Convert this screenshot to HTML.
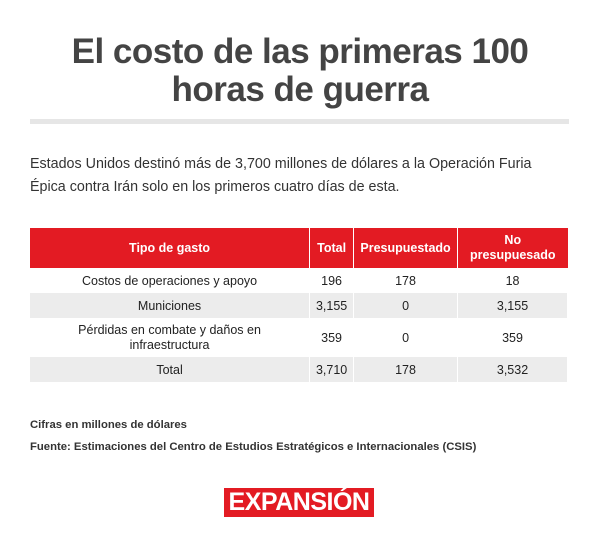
<!DOCTYPE html>
<html><head><meta charset="utf-8"><style>
*{margin:0;padding:0;box-sizing:border-box}
body{width:600px;height:550px;background:#fff;font-family:"Liberation Sans",sans-serif;color:#333;position:relative;overflow:hidden}
.t{position:absolute;left:0;width:600px;text-align:center;font-weight:bold;font-size:35px;color:#444;line-height:38px;letter-spacing:-0.5px}
.bar{position:absolute;left:30px;top:119px;width:539px;height:5px;background:#e6e6e6}
.p{position:absolute;left:30px;top:153px;width:530px;font-size:14.3px;line-height:23px;color:#333}
table{position:absolute;left:30px;top:228px;width:538px;border-collapse:collapse;font-size:12.5px;color:#222}
td,th{text-align:center;border-right:1px solid #fff;padding:0}
th{background:#e31b23;color:#fff;font-weight:bold;height:40px;font-size:12.5px;line-height:15px}
td{height:25px}
tr.g td{background:#ececec}
.f{position:absolute;left:30px;font-size:11.3px;font-weight:bold;color:#333}
.logo{position:absolute;left:224px;top:488px;width:150px;height:29px;background:#e31b23;color:#fff;font-size:25px;font-weight:bold;text-align:center;line-height:29px;letter-spacing:-0.5px}
</style></head><body>
<div class="t" style="top:33px">El costo de las primeras 100</div>
<div class="t" style="top:71px">horas de guerra</div>
<div class="bar"></div>
<div class="p">Estados Unidos destinó más de 3,700 millones de dólares a la Operación Furia Épica contra Irán solo en los primeros cuatro días de esta.</div>
<table>
<tr><th style="width:280px">Tipo de gasto</th><th style="width:44px">Total</th><th style="width:104px">Presupuestado</th><th style="width:110px;border-right:none">No<br>presupuesado</th></tr>
<tr><td>Costos de operaciones y apoyo</td><td>196</td><td>178</td><td>18</td></tr>
<tr class="g"><td>Municiones</td><td>3,155</td><td>0</td><td>3,155</td></tr>
<tr><td style="height:39px;line-height:15px">Pérdidas en combate y daños en<br>infraestructura</td><td>359</td><td>0</td><td>359</td></tr>
<tr class="g"><td>Total</td><td>3,710</td><td>178</td><td>3,532</td></tr>
</table>
<div class="f" style="top:419px">Cifras en millones de dólares</div>
<div class="f" style="top:441px">Fuente: Estimaciones del Centro de Estudios Estratégicos e Internacionales (CSIS)</div>
<div class="logo">EXPANSIÓN</div>
</body></html>
